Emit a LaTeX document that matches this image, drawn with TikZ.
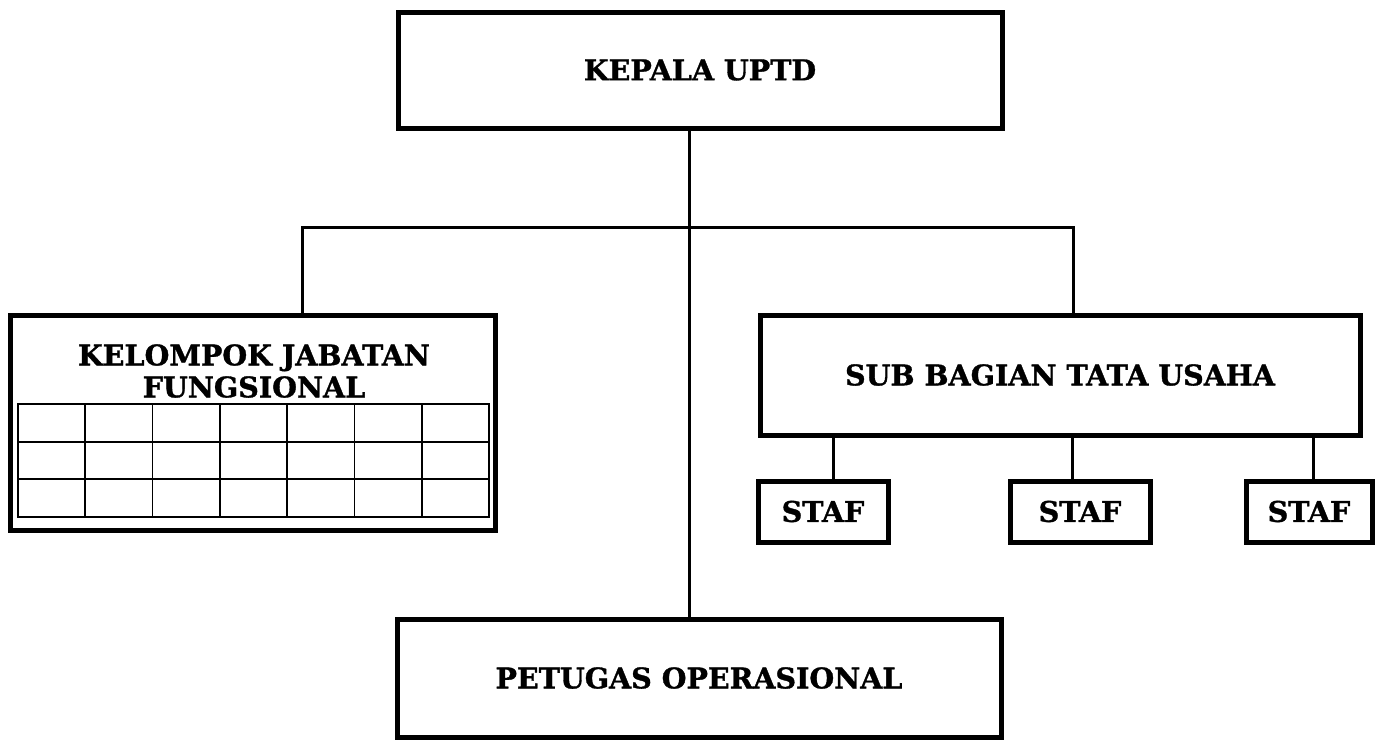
\documentclass[tikz,border=0pt]{standalone}
\usepackage{fontspec}
\setmainfont{DejaVu Serif}[BoldFeatures={FakeBold=1.2}]
\usepackage{tikz}
\usetikzlibrary{positioning}

\begin{document}
\begin{tikzpicture}[x=1pt, y=-1pt,
		unitbox/.style={rectangle, draw, line width=5pt, inner sep=0pt},
		unittext/.style={font=\bfseries\fontsize{28.5}{32}\selectfont, align=center},
		link/.style={line width=3pt},
		cellline/.style={line width=1.8pt}]
		\useasboundingbox (0, 0) rectangle (1379, 740);

		\node[unitbox, unittext, minimum width=604, minimum height=116] (kepala) at (700, 70) {KEPALA UPTD};
		\node[unitbox, minimum width=485, minimum height=215] (kjf) at (252.5, 422.5) {};
		\node[unittext] (kjftitle) at (254, 371) {KELOMPOK JABATAN\\FUNGSIONAL};
		\node[unitbox, unittext, minimum width=600, minimum height=120] (subtu) at (1060, 375) {SUB BAGIAN TATA USAHA};
		\node[unitbox, unittext, minimum width=130, minimum height=61] (staf1) at (823, 511.5) {STAF};
		\node[unitbox, unittext, minimum width=140, minimum height=61] (staf2) at (1080, 511.5) {STAF};
		\node[unitbox, unittext, minimum width=126, minimum height=61] (staf3) at (1309, 511.5) {STAF};
		\node[unitbox, unittext, minimum width=604, minimum height=118] (petugas) at (699, 678) {PETUGAS OPERASIONAL};

		% garis hubung
		\coordinate (hub) at (689, 227);
		\coordinate (lft) at (302, 227);
		\coordinate (rgt) at (1073, 227);
		\draw[link] (kepala.south -| hub) -- (petugas.north -| hub);
		\draw[link] (lft |- kjf.north) -- (lft) -- (rgt) -- (rgt |- subtu.north);

		\coordinate (s1) at (833, 435);
		\coordinate (s2) at (1072, 435);
		\coordinate (s3) at (1313, 435);
		\draw[link] (s1 |- subtu.south) -- (s1 |- staf1.north);
		\draw[link] (s2 |- subtu.south) -- (s2 |- staf2.north);
		\draw[link] (s3 |- subtu.south) -- (s3 |- staf3.north);

		% tabel jabatan fungsional
		\draw[cellline] (18, 404) rectangle (489, 517);
		\foreach \i in {1,...,6}
			\draw[cellline] (18 + \i*67.29, 404) -- (18 + \i*67.29, 517);
		\foreach \j in {1,2}
			\draw[cellline] (18, 404 + \j*37.67) -- (489, 404 + \j*37.67);
\end{tikzpicture}
\end{document}
